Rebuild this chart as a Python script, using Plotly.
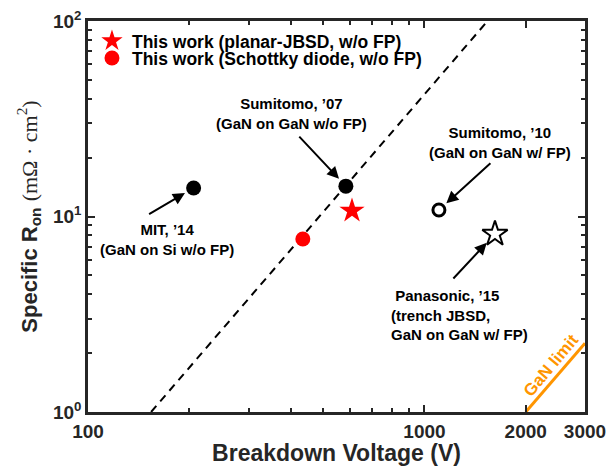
import math
import plotly.graph_objects as go

# ---- data ----
this_jbsd_v = [609]
this_jbsd_r = [10.7]
this_sbd_v = [435]
this_sbd_r = [7.67]
mit14_v = [206]
mit14_r = [14.0]
sumi07_v = [584]
sumi07_r = [14.3]
sumi10_v = [1104]
sumi10_r = [10.8]
pana15_v = [1620]
pana15_r = [8.14]
trend_v = [154, 1540]
trend_r = [1, 100]
ganlimit_v = [2000, 3000]
ganlimit_r = [1, 2.25]

x_tickvals = [100, 1000, 2000, 3000]
x_ticktext = ["100", "1000", "2000", "3000"]
y_tickvals = [1, 10, 100]
y_ticktext = ["10<sup>0</sup>", "10<sup>1</sup>", "10<sup>2</sup>"]
x_minor = [200, 300, 400, 500, 600, 700, 800, 900]
y_minor = [2, 3, 4, 5, 6, 7, 8, 9, 20, 30, 40, 50, 60, 70, 80, 90]

FONT = "Liberation Sans"
AX = "#262626"
ORANGE = "#FF9500"

fig = go.Figure()
fig.add_trace(go.Scatter(x=trend_v, y=trend_r, mode="lines",
                         line=dict(color="black", width=2, dash="8px,6px"),
                         showlegend=False, hoverinfo="skip"))
fig.add_trace(go.Scatter(x=ganlimit_v, y=ganlimit_r, mode="lines",
                         line=dict(color=ORANGE, width=3),
                         showlegend=False, hoverinfo="skip"))
fig.add_trace(go.Scatter(x=this_jbsd_v, y=this_jbsd_r, mode="markers",
                         name="This work (planar-JBSD, w/o FP)", legend="legend",
                         marker=dict(symbol="star", size=19, color="#FF0000",
                                     line=dict(width=0))))
fig.add_trace(go.Scatter(x=this_sbd_v, y=this_sbd_r, mode="markers",
                         name="This work (Schottky diode, w/o FP)", legend="legend2",
                         marker=dict(symbol="circle", size=15, color="#FF0000",
                                     line=dict(width=0))))
for xv, yv in [(mit14_v, mit14_r), (sumi07_v, sumi07_r)]:
    fig.add_trace(go.Scatter(x=xv, y=yv, mode="markers", showlegend=False,
                             marker=dict(symbol="circle", size=15, color="black",
                                         line=dict(width=0))))
fig.add_trace(go.Scatter(x=sumi10_v, y=sumi10_r, mode="markers", showlegend=False,
                         marker=dict(symbol="circle-open", size=12, color="black",
                                     line=dict(width=3))))
fig.add_trace(go.Scatter(x=pana15_v, y=pana15_r, mode="markers", showlegend=False,
                         marker=dict(symbol="star-open", size=19, color="black",
                                     line=dict(width=2))))

afont = dict(family=FONT, size=15, color="black", weight="bold")


def arrow(xv, yv, ax, ay, standoff=10):
    fig.add_annotation(x=math.log10(xv), y=math.log10(yv), xref="x", yref="y",
                       text="", showarrow=True, ax=ax, ay=ay,
                       arrowhead=2, arrowsize=1.2, arrowwidth=2, arrowcolor="black",
                       standoff=standoff)


def label(xv, yv, text, xs, ys, xanchor="center", align="center"):
    fig.add_annotation(x=math.log10(xv), y=math.log10(yv), xref="x", yref="y",
                       text=text, showarrow=False, xshift=xs, yshift=ys,
                       xanchor=xanchor, align=align, font=afont)


arrow(sumi07_v[0], sumi07_r[0], -48, -51)
label(sumi07_v[0], sumi07_r[0], "Sumitomo, ’07<br>(GaN on GaN w/o FP)", -54, 73)
arrow(mit14_v[0], mit14_r[0], -46, 27)
label(mit14_v[0], mit14_r[0], "MIT, ’14<br>(GaN on Si w/o FP)", -27, -52)
arrow(sumi10_v[0], sumi10_r[0], 53, -48)
label(sumi10_v[0], sumi10_r[0], "Sumitomo, ’10<br>(GaN on GaN w/ FP)", 61, 67)
arrow(pana15_v[0], pana15_r[0], -43, 46, standoff=12)
label(pana15_v[0], pana15_r[0], " Panasonic, ’15<br>(trench JBSD,<br>GaN on GaN w/ FP)",
      -106, -81, xanchor="left", align="left")

fig.add_annotation(x=math.log10(2380), y=math.log10(1.72), xref="x", yref="y",
                   text="GaN limit", showarrow=False, textangle=-50,
                   font=dict(family=FONT, size=17, color=ORANGE, weight="bold"))

tickfont = dict(family=FONT, size=19, color=AX, weight="bold")
legfont = dict(family=FONT, size=17.5, color="black", weight="bold")
fig.update_layout(
    width=611, height=466,
    margin=dict(l=88, r=26, t=21, b=54, autoexpand=False),
    plot_bgcolor="white", paper_bgcolor="white",
    font=dict(family=FONT, color=AX),
    showlegend=True,
    legend=dict(x=0.008, y=0.949, xanchor="left", yanchor="middle",
                bgcolor="rgba(0,0,0,0)", borderwidth=0, font=legfont,
                itemsizing="trace"),
    legend2=dict(x=0.008, y=0.905, xanchor="left", yanchor="middle",
                 bgcolor="rgba(0,0,0,0)", borderwidth=0, font=legfont,
                 itemsizing="trace"),
    xaxis=dict(type="log", range=[2, math.log10(3000)], automargin=False,
               tickmode="array", tickvals=x_tickvals, ticktext=x_ticktext,
               ticks="inside", ticklen=7, tickwidth=1.5, tickcolor=AX,
               minor=dict(tickmode="array", tickvals=x_minor, ticks="inside",
                          ticklen=4, tickwidth=1.5, tickcolor=AX, showgrid=False),
               showgrid=False, zeroline=False,
               showline=True, linewidth=2.5, linecolor=AX, mirror="ticks",
               tickfont=tickfont,
               title=dict(text="Breakdown Voltage (V)", standoff=4,
                          font=dict(family=FONT, size=23, color=AX, weight="bold"))),
    yaxis=dict(type="log", range=[0, 2], automargin=False,
               tickmode="array", tickvals=y_tickvals, ticktext=y_ticktext,
               ticks="inside", ticklen=7, tickwidth=1.5, tickcolor=AX,
               minor=dict(tickmode="array", tickvals=y_minor, ticks="inside",
                          ticklen=4, tickwidth=1.5, tickcolor=AX, showgrid=False),
               showgrid=False, zeroline=False,
               showline=True, linewidth=2.5, linecolor=AX, mirror="ticks",
               tickfont=tickfont,
               title=dict(text="Specific R<sub>on</sub> <span style=\"font-family:'Liberation Serif';font-weight:normal\">(mΩ · cm<sup>2</sup>)</span>",
                          standoff=10,
                          font=dict(family=FONT, size=22, color=AX, weight="bold"))),
)

fig.write_html("out.html")
